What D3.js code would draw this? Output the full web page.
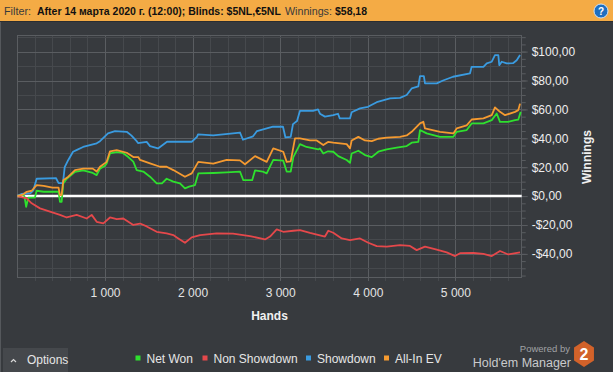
<!DOCTYPE html>
<html>
<head>
<meta charset="utf-8">
<script src="https://cdn.jsdelivr.net/npm/d3@7/dist/d3.min.js"></script>
<style>
    body { margin: 0; background: #373a3e; }
    svg { display: block; }
</style>
</head>
<body>
<div id="chart"></div>
<script>

// --- Daten (hands, winnings) ------------------------------------------------------------- //

var seriesNames = ['Net Won', 'Non Showdown', 'Showdown', 'All-In EV'];

var netWon = [[0,0],[60,1],[80,0],[100,-7.4],[125,-1],[200,-1],[220,3.7],[300,3],[470,3],[486,-4],[505,-4],[524,8.8],
    [563,12],[658,16.8],[752,17.8],[860,16],[905,14.5],[943,19],[1000,21],[1019,22.6],[1057,29.5],[1134,30.5],[1200,30],
    [1266,27],[1323,23.8],[1362,18],[1437,17],[1514,13.4],[1590,8.8],[1650,8.8],[1704,12],[1780,10],[1856,8.8],[1913,5.3],
    [1960,6.5],[2027,7.6],[2065,15.7],[2236,16],[2389,16.4],[2541,17],[2579,11],[2680,11],[2713,17.8],[2800,17],[2846,15.7],
    [2921,25],[3035,24.5],[3074,17],[3120,17],[3150,27],[3226,36],[3300,34],[3435,32.3],[3454,33],[3492,29.5],[3546,31],
    [3606,30.7],[3663,27.7],[3759,25],[3797,23],[3816,29.5],[3892,31.4],[3968,28.4],[4045,27],[4120,30.7],[4216,32.3],
    [4330,33.5],[4444,34.6],[4501,37],[4577,37.6],[4596,45.7],[4672,43.4],[4825,41],[4977,41],[5015,44.5],[5129,45.7],
    [5186,50.3],[5320,50.3],[5415,52.6],[5472,57.2],[5509,51.4],[5600,51.4],[5681,52.6],[5718,53],[5746,58.3]];

var nonShowdown = [[0,0],[106,-1.6],[163,-5],[258,-8.5],[372,-10.8],[486,-13],[563,-14.8],[677,-13],[791,-15.5],[848,-13],
    [905,-17.8],[981,-18.9],[1057,-14.8],[1134,-16],[1209,-15.5],[1323,-20],[1400,-19],[1476,-21],[1590,-24.7],[1704,-25.8],
    [1780,-27],[1819,-28.6],[1913,-32.3],[1990,-28.6],[2085,-27],[2275,-25.8],[2461,-26],[2655,-27.7],[2827,-30],[2884,-28],
    [2960,-23],[3035,-24.7],[3150,-24],[3226,-23.5],[3340,-25.4],[3511,-28],[3549,-24],[3606,-25.4],[3702,-29.3],[3797,-30.4],
    [3911,-29.3],[4006,-32.3],[4102,-34.6],[4216,-35],[4368,-34],[4482,-34.5],[4558,-37.4],[4653,-35],[4787,-37],[4901,-39],
    [4996,-41.5],[5053,-39.5],[5206,-39.4],[5320,-40],[5415,-41.5],[5509,-38],[5604,-40.4],[5738,-39]];

var showdown = [[0,0],[50,1.5],[150,2],[182,4],[220,12],[440,12.5],[470,9],[520,9],[540,20],[581,25],[635,30.7],[680,32],
    [750,34],[905,36.5],[943,38],[1034,43.4],[1114,45],[1248,44.5],[1300,42],[1362,38],[1377,36.7],[1476,37.5],[1514,34.6],
    [1605,33],[1708,37.6],[1990,37.6],[2050,41],[2062,42.7],[2236,42],[2461,43.4],[2541,44],[2575,39],[2690,41.4],[2735,45],
    [2918,48],[3032,48],[3060,40.6],[3120,41],[3146,49.8],[3192,52],[3226,59],[3375,59],[3432,60],[3454,57],[3511,55],
    [3606,56],[3660,57],[3680,53.8],[3797,53.8],[3816,58],[3911,60.7],[4002,61.8],[4102,65],[4254,67.6],[4368,68],[4444,70],
    [4501,74.5],[4577,75.9],[4596,83],[4640,83],[4653,78],[4787,78],[4859,80],[4973,82.6],[5167,85],[5186,89.5],[5320,89.5],
    [5358,91.8],[5415,93],[5452,97.6],[5490,97.6],[5501,90.6],[5529,93],[5586,91.8],[5658,92],[5700,94],[5738,97.6]];

var allInEv = [[0,0],[60,1],[106,3],[163,3.7],[220,7.6],[300,7],[400,5.8],[470,5.8],[486,0.7],[505,0.7],[524,11],[581,13.4],
    [658,18],[752,19],[860,19],[905,17],[943,20.3],[1019,23.7],[1057,31],[1134,31.8],[1248,30],[1323,27],[1380,27],[1400,25],
    [1514,22.6],[1628,20.3],[1704,20.3],[1780,18],[1913,13.4],[1990,15.7],[2065,23.7],[2236,22.5],[2389,25],[2541,24.7],
    [2598,22],[2713,27.7],[2846,23.7],[2921,33],[3035,30.7],[3074,23.7],[3120,24],[3169,40],[3226,40],[3340,38.5],[3417,38.5],
    [3492,35.3],[3546,37.5],[3606,37],[3759,36],[3797,33],[3816,38.5],[3892,41],[3968,38.5],[4045,38],[4120,39.7],[4216,40.4],
    [4368,41],[4444,42],[4501,44.5],[4596,50.3],[4634,51.5],[4653,46.8],[4825,44.5],[4977,43.4],[5015,46.8],[5129,49],
    [5186,53],[5320,53.8],[5415,56],[5452,61.4],[5509,58.3],[5567,56],[5681,58.3],[5718,59.5],[5738,64]];

var xTickValues = [1000, 2000, 3000, 4000, 5000];
var yTickValues = [-40, -20, 0, 20, 40, 60, 80, 100];
var handsMax = 5757;
var winningsDomain = [-56, 111.5];


var Config = {
    Width: 613,
    Height: 372,
    Plot: { left: 17.4, right: 521.7, top: 35, bottom: 277 },
    Colors: ['#2ee02e', '#e5484b', '#3a9be0', '#f59a30'],
    Font: '"Liberation Sans", Arial, sans-serif',
    Grid: '#46494d',
    GridMajor: '#5a5d61'
};


//--- Kopfzeile -------------------------------------------------------------------------------------- //

function renderHeader(svg) {

    svg.append('rect')
        .attr('x', 0).attr('y', 0)
        .attr('width', Config.Width).attr('height', 21)
        .attr('fill', '#f4ab45');

    svg.append('line')
        .attr('x1', 0).attr('x2', Config.Width)
        .attr('y1', 21.5).attr('y2', 21.5)
        .attr('stroke', '#2b2d30');

    // Originalschrift ist schmaler -> jedes Stueck horizontal auf seine Breite skaliert
    var parts = [
        { x: 4,   w: 27,  bold: false, t: 'Filter:' },
        { x: 37,  w: 244, bold: true,  t: 'After 14 марта 2020 г. (12:00); Blinds: $5NL,€5NL' },
        { x: 285, w: 47,  bold: false, t: 'Winnings:' },
        { x: 335, w: 32,  bold: true,  t: '$58,18' }
    ];

    svg.append('g').selectAll('text')
        .data(parts)
        .enter().append('text')
        .attr('x', 0)
        .attr('y', 0)
        .attr('font-family', Config.Font)
        .attr('font-size', '11.5px')
        .attr('font-weight', function (d) { return d.bold ? 'bold' : 'normal'; })
        .attr('fill', function (d) { return d.bold ? '#111111' : '#3a3a3a'; })
        .text(function (d) { return d.t; })
        .attr('transform', function (d) {
            var sx = d.w / this.getComputedTextLength();
            return 'translate(' + d.x + ',15) scale(' + sx + ',1)';
        });

    // Hilfe-Symbol
    svg.append('circle')
        .attr('cx', 601).attr('cy', 11).attr('r', 7)
        .attr('fill', '#1f6fc0')
        .attr('stroke', '#cfe2f7').attr('stroke-width', 1);

    svg.append('text')
        .attr('x', 601).attr('y', 15)
        .attr('text-anchor', 'middle')
        .attr('font-family', Config.Font)
        .attr('font-size', '10px')
        .attr('font-weight', 'bold')
        .attr('fill', '#ffffff')
        .text('?');
}


//--- Diagramm --------------------------------------------------------------------------------------- //

function renderChart(svg) {

    var p = Config.Plot;

    var x = d3.scaleLinear().domain([0, handsMax]).range([p.left, p.right]);
    var y = d3.scaleLinear().domain(winningsDomain).range([p.bottom, p.top]);

    var grid = svg.append('g').attr('id', 'grid');

    // senkrechte Linien alle 200 Hands
    var xGrid = d3.range(200, handsMax, 200);
    grid.selectAll('.vgrid')
        .data(xGrid)
        .enter().append('line')
        .attr('x1', function (d) { return Math.round(x(d)) + 0.5; })
        .attr('x2', function (d) { return Math.round(x(d)) + 0.5; })
        .attr('y1', p.top)
        .attr('y2', p.bottom + 4)
        .attr('stroke', function (d) { return d % 1000 === 0 ? Config.GridMajor : Config.Grid; });

    // waagerechte Linien alle $10
    var yGrid = d3.range(-50, 111, 10);
    grid.selectAll('.hgrid')
        .data(yGrid)
        .enter().append('line')
        .attr('x1', p.left)
        .attr('x2', p.right)
        .attr('y1', function (d) { return Math.round(y(d)) + 0.5; })
        .attr('y2', function (d) { return Math.round(y(d)) + 0.5; })
        .attr('stroke', function (d) { return d % 20 === 0 ? Config.GridMajor : Config.Grid; });

    grid.append('rect')
        .attr('x', Math.round(p.left) + 0.5)
        .attr('y', p.top + 0.5)
        .attr('width', Math.round(p.right - p.left))
        .attr('height', p.bottom - p.top)
        .attr('fill', 'none')
        .attr('stroke', Config.GridMajor);

    // kleine Striche rechts alle $5
    var yMinor = svg.append('g')
        .attr('transform', 'translate(' + p.right + ',0)')
        .call(d3.axisRight(y).tickValues(d3.range(-55, 111, 5)).tickSize(4).tickFormat(''));
    yMinor.select('.domain').remove();
    yMinor.selectAll('line').attr('stroke', Config.GridMajor);

    var fmtMoney = function (d) {
        var s = '$' + Math.abs(d) + ',00';
        return d < 0 ? '-' + s : s;
    };

    var yAxis = svg.append('g')
        .attr('transform', 'translate(' + p.right + ',0)')
        .call(d3.axisRight(y).tickValues(yTickValues).tickSize(6).tickPadding(4).tickFormat(fmtMoney));
    yAxis.select('.domain').remove();
    yAxis.selectAll('line').attr('stroke', Config.GridMajor);
    yAxis.selectAll('text')
        .attr('font-family', Config.Font)
        .attr('font-size', '12px')
        .attr('fill', '#eeeeee');

    var fmtHands = function (d) { return d3.format(',')(d).replace(/,/g, ' '); };

    var xAxis = svg.append('g')
        .attr('transform', 'translate(0,' + p.bottom + ')')
        .call(d3.axisBottom(x).tickValues(xTickValues).tickSize(0).tickPadding(11).tickFormat(fmtHands));
    xAxis.select('.domain').remove();
    xAxis.selectAll('text')
        .attr('font-family', Config.Font)
        .attr('font-size', '12px')
        .attr('fill', '#e4e4e4');

    svg.append('text')
        .attr('x', (p.left + p.right) / 2)
        .attr('y', 320)
        .attr('text-anchor', 'middle')
        .attr('font-family', Config.Font)
        .attr('font-size', '12px')
        .attr('font-weight', 'bold')
        .attr('fill', '#f0f0f0')
        .text('Hands');

    svg.append('text')
        .attr('transform', 'translate(591,157) rotate(-90)')
        .attr('text-anchor', 'middle')
        .attr('font-family', Config.Font)
        .attr('font-size', '12px')
        .attr('font-weight', 'bold')
        .attr('fill', '#f0f0f0')
        .text('Winnings');

    // Null-Linie
    svg.append('line')
        .attr('x1', p.left).attr('x2', p.right)
        .attr('y1', y(0)).attr('y2', y(0))
        .attr('stroke', '#ffffff')
        .attr('stroke-width', 2.5);

    var line = d3.line()
        .x(function (d) { return x(d[0]); })
        .y(function (d) { return y(d[1]); });

    var series = [netWon, nonShowdown, showdown, allInEv];

    for (var i = 0; i < series.length; i++) {
        svg.append('path')
            .datum(series[i])
            .attr('d', line)
            .attr('fill', 'none')
            .attr('stroke', Config.Colors[i])
            .attr('stroke-width', 1.8)
            .attr('stroke-linejoin', 'round');
    }
}


//--- Fusszeile: Optionen, Legende, Logo -------------------------------------------------------------- //

function renderFooter(svg) {

    svg.append('rect')
        .attr('x', 3).attr('y', 348)
        .attr('width', 65).attr('height', 24)
        .attr('fill', '#45484c');

    svg.append('path')
        .attr('d', 'M11,362 L13.5,359.5 L16,362')
        .attr('fill', 'none')
        .attr('stroke', '#d8d8d8')
        .attr('stroke-width', 1.2);

    svg.append('text')
        .attr('x', 27).attr('y', 364)
        .attr('font-family', Config.Font)
        .attr('font-size', '12px')
        .attr('fill', '#e6e6e6')
        .text('Options');

    var legendX = [135.5, 202.5, 306, 384];

    var legend = svg.append('g').attr('id', 'legend');

    var item = legend.selectAll('g')
        .data(seriesNames)
        .enter().append('g')
        .attr('transform', function (d, i) { return 'translate(' + legendX[i] + ',0)'; });

    item.append('rect')
        .attr('x', 0).attr('y', 355.5)
        .attr('width', 5).attr('height', 5)
        .attr('fill', function (d, i) { return Config.Colors[i]; });

    item.append('text')
        .attr('x', 11).attr('y', 362.5)
        .attr('font-family', Config.Font)
        .attr('font-size', '12px')
        .attr('fill', '#e6e6e6')
        .text(function (d) { return d; });

    svg.append('text')
        .attr('x', 570).attr('y', 351.5)
        .attr('text-anchor', 'end')
        .attr('font-family', Config.Font)
        .attr('font-size', '9.5px')
        .attr('fill', '#a0a2a5')
        .text('Powered by');

    svg.append('text')
        .attr('x', 571).attr('y', 366.5)
        .attr('text-anchor', 'end')
        .attr('font-family', Config.Font)
        .attr('font-size', '12.5px')
        .attr('fill', '#c9cacc')
        .text('Hold\'em Manager');

    var hex = d3.range(6).map(function (k) {
        var a = Math.PI / 3 * k - Math.PI / 2;
        return [584 + 11.5 * Math.cos(a), 354 + 13 * Math.sin(a)];
    });

    svg.append('polygon')
        .attr('points', hex.map(function (pt) { return pt.join(','); }).join(' '))
        .attr('fill', '#d2622a');

    svg.append('text')
        .attr('x', 584).attr('y', 360)
        .attr('text-anchor', 'middle')
        .attr('font-family', Config.Font)
        .attr('font-size', '16px')
        .attr('font-weight', 'bold')
        .attr('fill', '#ffffff')
        .text('2');
}


// --- Start ----------------------------------------------------------------------------------------- //

var svg = d3.select('#chart').append('svg')
    .attr('width', Config.Width)
    .attr('height', Config.Height);

svg.append('rect')
    .attr('width', Config.Width)
    .attr('height', Config.Height)
    .attr('fill', '#373a3e');

svg.append('line')
    .attr('x1', 0.5).attr('x2', 0.5)
    .attr('y1', 22).attr('y2', Config.Height)
    .attr('stroke', '#55585c');

renderHeader(svg);
renderChart(svg);
renderFooter(svg);

</script>
</body>
</html>
